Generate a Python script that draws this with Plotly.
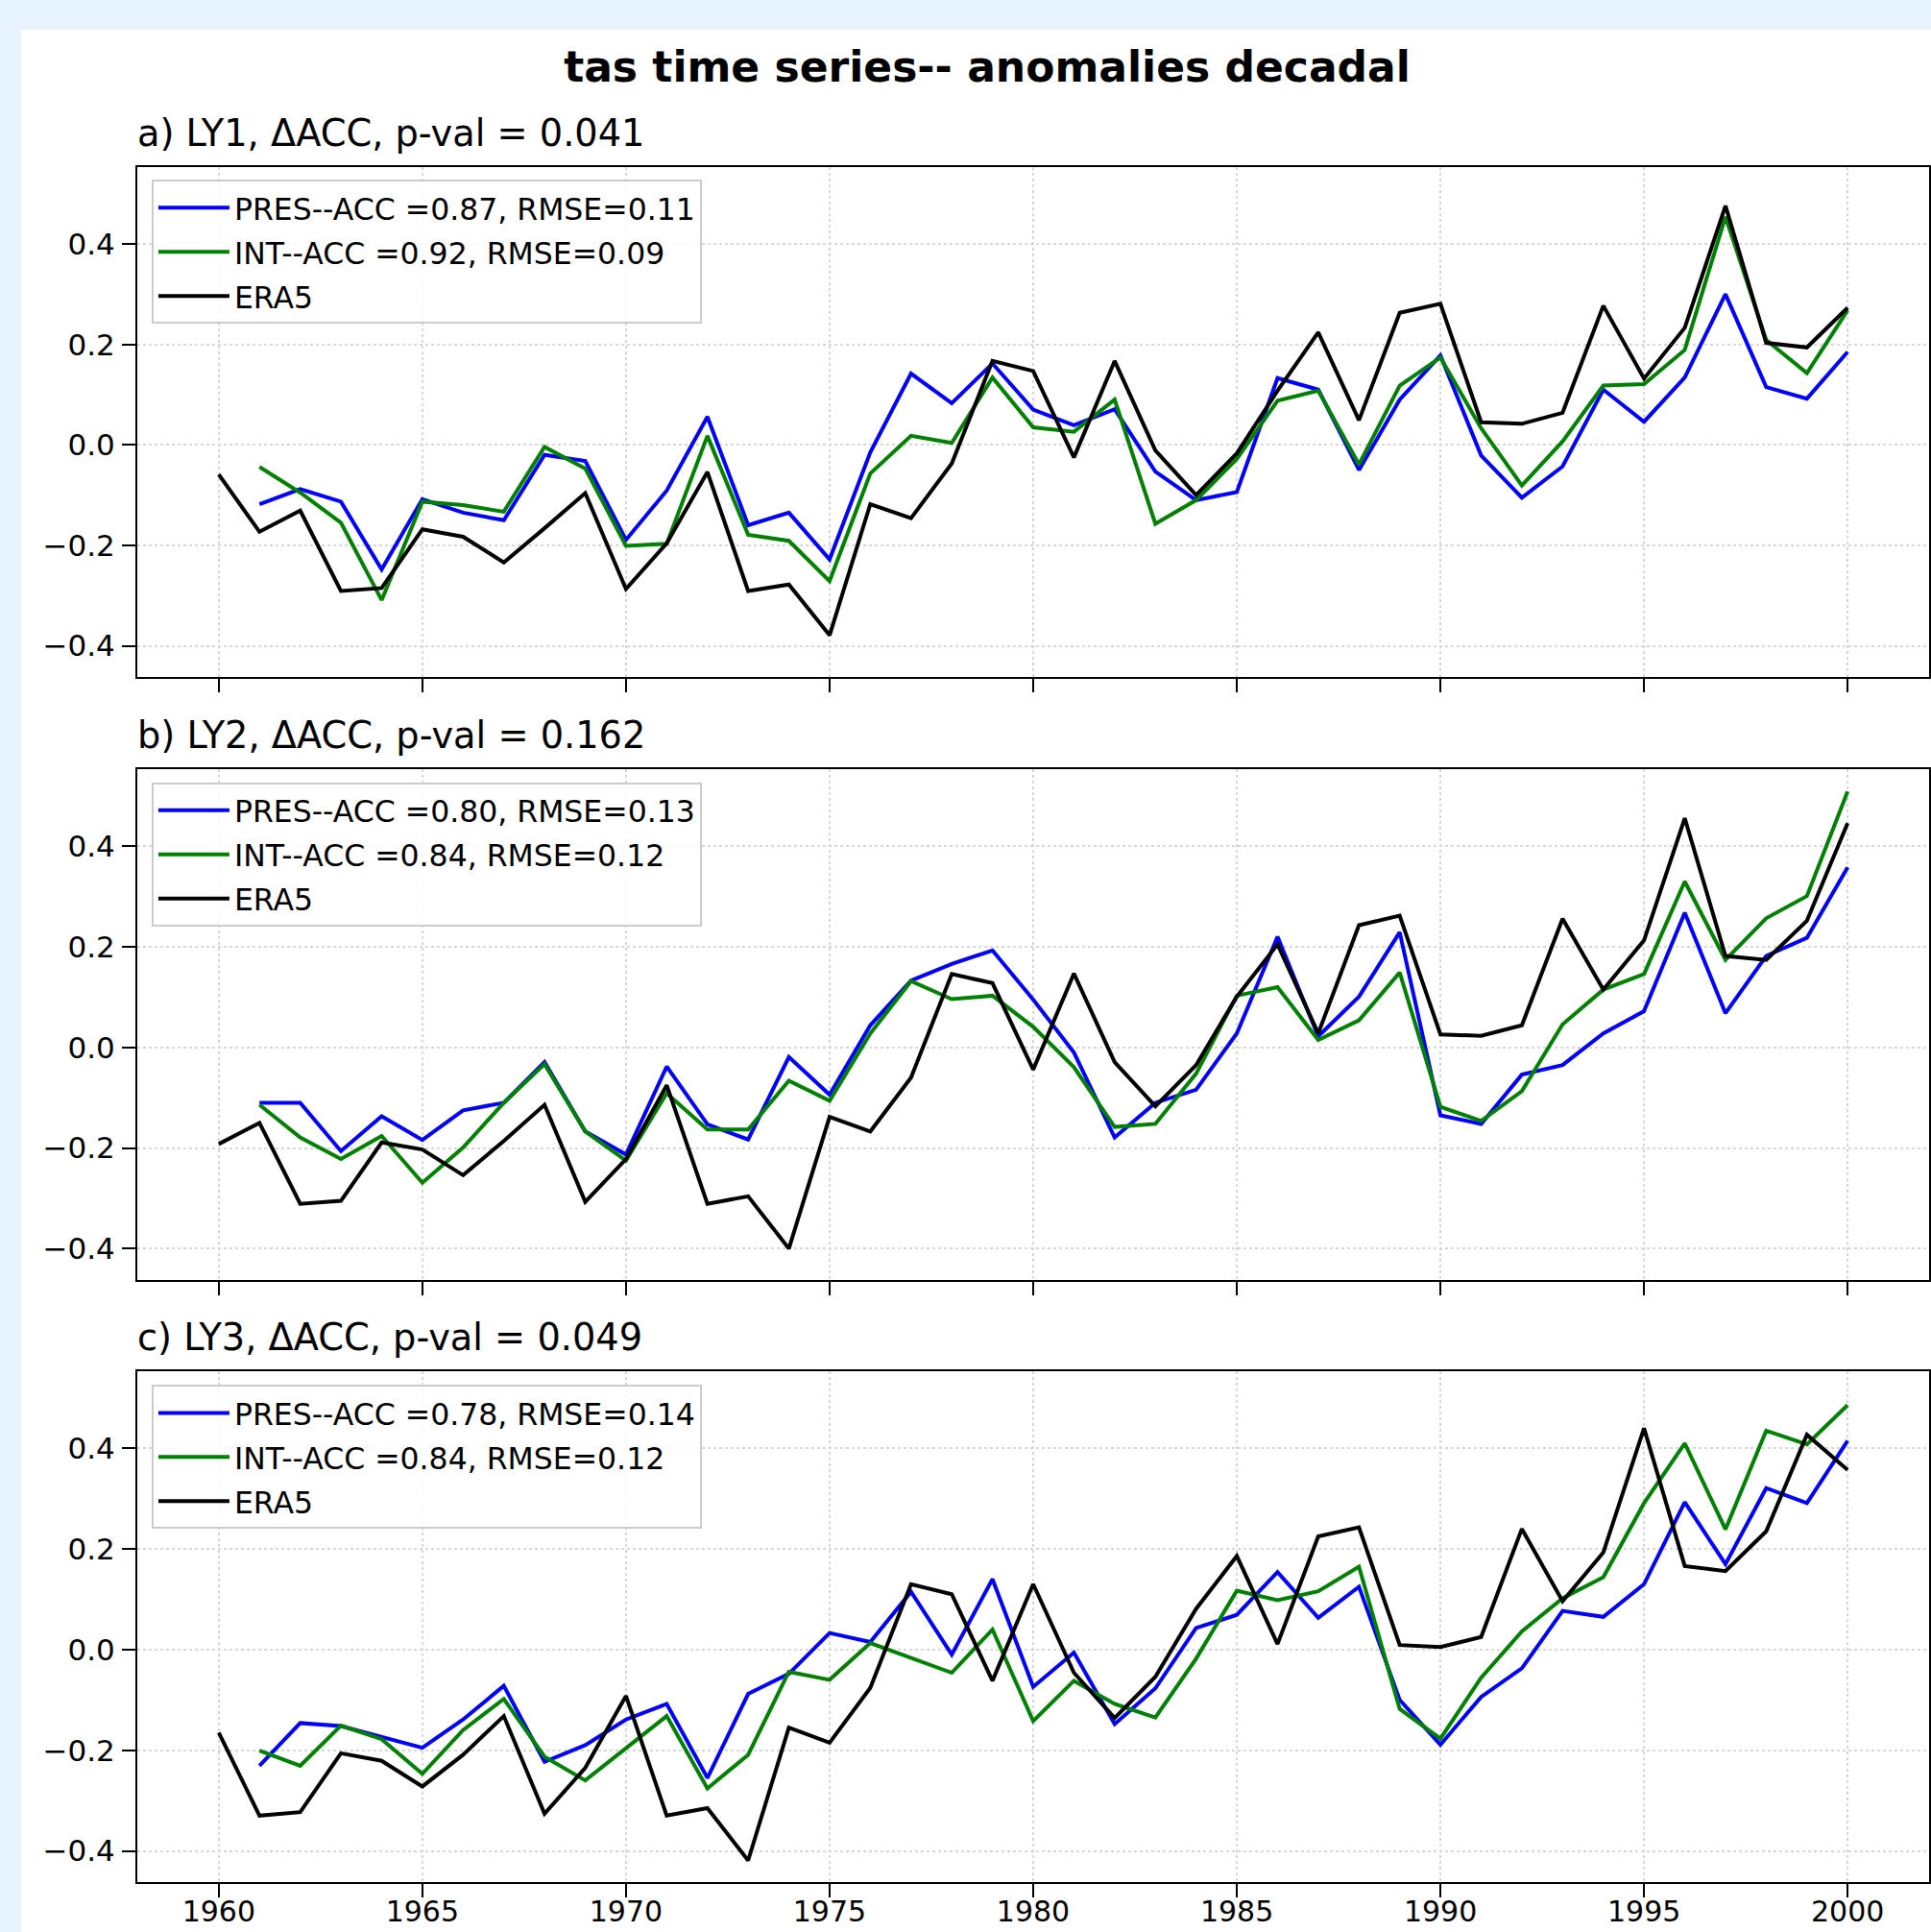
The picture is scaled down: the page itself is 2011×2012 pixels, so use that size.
import plotly.graph_objects as go

# ---------------- data ----------------
years_obs = list(range(1960, 2001))
years_model = list(range(1961, 2001))

pres_a = [-0.118, -0.088, -0.113, -0.248, -0.108, -0.135, -0.150, -0.020, -0.032, -0.189,
          -0.091, 0.056, -0.160, -0.135, -0.228, -0.015, 0.142, 0.083, 0.162, 0.070,
          0.039, 0.071, -0.053, -0.110, -0.094, 0.133, 0.110, -0.050, 0.090, 0.178,
          -0.021, -0.105, -0.043, 0.110, 0.046, 0.134, 0.300, 0.115, 0.092, 0.185]
int_a = [-0.044, -0.095, -0.155, -0.309, -0.113, -0.120, -0.133, -0.004, -0.047, -0.201,
         -0.197, 0.018, -0.179, -0.191, -0.271, -0.057, 0.018, 0.004, 0.134, 0.035,
         0.026, 0.090, -0.157, -0.110, -0.028, 0.088, 0.108, -0.039, 0.118, 0.174,
         0.033, -0.081, 0.007, 0.118, 0.121, 0.189, 0.454, 0.209, 0.143, 0.268]
era_a = [-0.059, -0.173, -0.131, -0.291, -0.285, -0.168, -0.183, -0.234, -0.166, -0.096,
         -0.287, -0.196, -0.054, -0.291, -0.278, -0.379, -0.118, -0.146, -0.037, 0.167,
         0.147, -0.025, 0.167, -0.011, -0.100, -0.017, 0.108, 0.224, 0.049, 0.263,
         0.281, 0.045, 0.042, 0.064, 0.277, 0.132, 0.233, 0.476, 0.203, 0.194, 0.273]

pres_b = [-0.110, -0.110, -0.206, -0.137, -0.184, -0.125, -0.110, -0.029, -0.167, -0.213,
          -0.038, -0.153, -0.183, -0.019, -0.094, 0.044, 0.133, 0.166, 0.193, 0.095,
          -0.010, -0.179, -0.110, -0.084, 0.028, 0.220, 0.022, 0.101, 0.229, -0.135,
          -0.152, -0.054, -0.035, 0.028, 0.072, 0.268, 0.068, 0.182, 0.218, 0.358]
int_b = [-0.114, -0.179, -0.222, -0.176, -0.269, -0.199, -0.110, -0.033, -0.167, -0.225,
         -0.091, -0.163, -0.163, -0.066, -0.106, 0.028, 0.132, 0.096, 0.103, 0.041,
         -0.039, -0.158, -0.152, -0.052, 0.103, 0.120, 0.015, 0.054, 0.149, -0.118,
         -0.146, -0.087, 0.046, 0.115, 0.146, 0.330, 0.174, 0.257, 0.301, 0.509]
era_b = [-0.192, -0.150, -0.311, -0.305, -0.189, -0.203, -0.254, -0.186, -0.114, -0.307,
         -0.222, -0.075, -0.311, -0.296, -0.400, -0.138, -0.167, -0.060, 0.146, 0.128,
         -0.044, 0.147, -0.029, -0.117, -0.035, 0.101, 0.205, 0.028, 0.243, 0.262,
         0.026, 0.023, 0.044, 0.256, 0.115, 0.213, 0.456, 0.182, 0.174, 0.252, 0.446]

pres_c = [-0.231, -0.146, -0.152, -0.173, -0.195, -0.139, -0.072, -0.223, -0.190, -0.139,
          -0.108, -0.255, -0.088, -0.048, 0.033, 0.015, 0.115, -0.010, 0.140, -0.074,
          -0.006, -0.148, -0.077, 0.043, 0.069, 0.154, 0.063, 0.125, -0.100, -0.189,
          -0.094, -0.037, 0.077, 0.065, 0.130, 0.293, 0.170, 0.321, 0.291, 0.415]
int_c = [-0.201, -0.231, -0.151, -0.178, -0.247, -0.160, -0.098, -0.213, -0.260, -0.195,
         -0.132, -0.276, -0.209, -0.044, -0.060, 0.013, -0.017, -0.046, 0.040, -0.142,
         -0.062, -0.108, -0.135, -0.018, 0.117, 0.098, 0.116, 0.165, -0.118, -0.177,
         -0.056, 0.036, 0.102, 0.144, 0.291, 0.410, 0.239, 0.435, 0.408, 0.486]
era_c = [-0.165, -0.330, -0.323, -0.206, -0.221, -0.272, -0.209, -0.132, -0.326, -0.235,
         -0.092, -0.330, -0.315, -0.419, -0.155, -0.185, -0.076, 0.130, 0.110, -0.062,
         0.130, -0.046, -0.136, -0.054, 0.081, 0.186, 0.011, 0.225, 0.243, 0.009,
         0.005, 0.025, 0.240, 0.096, 0.193, 0.440, 0.166, 0.156, 0.235, 0.427, 0.357]

panel_titles = ["a) LY1, \u0394ACC, p-val = 0.041",
                "b) LY2, \u0394ACC, p-val = 0.162",
                "c) LY3, \u0394ACC, p-val = 0.049"]
pres_labels = ["PRES--ACC =0.87, RMSE=0.11", "PRES--ACC =0.80, RMSE=0.13", "PRES--ACC =0.78, RMSE=0.14"]
int_labels = ["INT--ACC =0.92, RMSE=0.09", "INT--ACC =0.84, RMSE=0.12", "INT--ACC =0.84, RMSE=0.12"]
obs_label = "ERA5"

x_ticks = [1960, 1965, 1970, 1975, 1980, 1985, 1990, 1995, 2000]
y_ticks = [-0.4, -0.2, 0.0, 0.2, 0.4]
y_ticktext = ["\u22120.4", "\u22120.2", "0.0", "0.2", "0.4"]
main_title = "tas time series-- anomalies decadal"

# ---------------- layout geometry ----------------
W, H = 2011, 2012
ML, MR, MT, MB = 143, 2, 174, 52
PH = H - MT - MB
domains = [[0.7027, 1.0], [0.3512, 0.6488], [0.0, 0.2978]]
legend_tops = [0.9925, 0.6412, 0.2898]
FONT = "DejaVu Sans"
LW = 4

fig = go.Figure()
series = [(pres_a, int_a, era_a), (pres_b, int_b, era_b), (pres_c, int_c, era_c)]

annotations = []
for i, (p, g, e) in enumerate(series):
    k = i + 1
    sx = "" if k == 1 else str(k)
    leg = "legend" if k == 1 else "legend%d" % k
    common = dict(mode="lines", xaxis="x" + sx, yaxis="y" + sx, legend=leg)
    fig.add_trace(go.Scatter(x=years_model, y=p, name=pres_labels[i], legendgroup="p%d" % k,
                             line=dict(color="#0000ff", width=LW), **common))
    fig.add_trace(go.Scatter(x=years_model, y=g, name=int_labels[i], legendgroup="g%d" % k,
                             line=dict(color="#008000", width=LW), **common))
    fig.add_trace(go.Scatter(x=years_obs, y=e, name=obs_label, legendgroup="e%d" % k,
                             line=dict(color="#000000", width=LW), **common))

    fig.update_layout(**{
        "xaxis" + sx: dict(
            domain=[0, 1], anchor="y" + sx, range=[1958, 2002], automargin=False,
            tickmode="array", tickvals=x_ticks,
            showticklabels=(k == 3), ticks="outside", ticklen=14, tickwidth=2,
            tickcolor="black", showline=True, linecolor="black", linewidth=2,
            mirror=True, showgrid=True, gridcolor="#d8d8d8", griddash="dot",
            gridwidth=1.5, zeroline=False,
            tickfont=dict(family=FONT, size=30, color="black"),
            ticklabelstandoff=-11,
        ),
        "yaxis" + sx: dict(
            domain=domains[i], anchor="x" + sx, range=[-0.462, 0.553], automargin=False,
            tickmode="array", tickvals=y_ticks, ticktext=y_ticktext,
            ticks="outside", ticklen=14, tickwidth=2, tickcolor="black",
            showline=True, linecolor="black", linewidth=2, mirror=True,
            showgrid=True, gridcolor="#d8d8d8", griddash="dot", gridwidth=1.5,
            zeroline=False, tickfont=dict(family=FONT, size=31, color="black"),
            ticklabelstandoff=1,
        ),
        leg: dict(
            x=0.008, y=legend_tops[i], xref="paper", yref="paper",
            xanchor="left", yanchor="top",
            bgcolor="rgba(255,255,255,0.85)", bordercolor="#cccccc", borderwidth=2,
            font=dict(family=FONT, size=31.5, color="black"),
            itemwidth=74, tracegroupgap=2,
        ),
    })
    annotations.append(dict(
        text=panel_titles[i], x=0, y=domains[i][1], xref="paper", yref="paper",
        xanchor="left", yanchor="bottom", xshift=-2, yshift=11, showarrow=False,
        font=dict(family=FONT, size=38.3, color="black"),
    ))

# white card over the light-blue page background
card = dict(type="rect", xref="paper", yref="paper", layer="below",
            x0=(22 - ML) / (W - ML - MR), x1=1.2,
            y0=-0.2, y1=1 + (MT - 31) / PH,
            fillcolor="white", line=dict(width=0))

fig.update_layout(
    width=W, height=H,
    margin=dict(l=ML, r=MR, t=MT, b=MB, pad=0, autoexpand=False),
    paper_bgcolor="#e7f3fe", plot_bgcolor="white",
    font=dict(family=FONT, color="black"),
    title=dict(text="<b>" + main_title + "</b>", x=1028 / W, xref="container",
               xanchor="center", y=1 - 70 / H, yref="container", yanchor="middle",
               font=dict(family=FONT, size=44, color="black")),
    annotations=annotations,
    shapes=[card],
    showlegend=True,
)

fig.write_html("out.html", config={"displayModeBar": False},
               post_script="document.body.style.margin='0';document.body.style.overflow='hidden';")
